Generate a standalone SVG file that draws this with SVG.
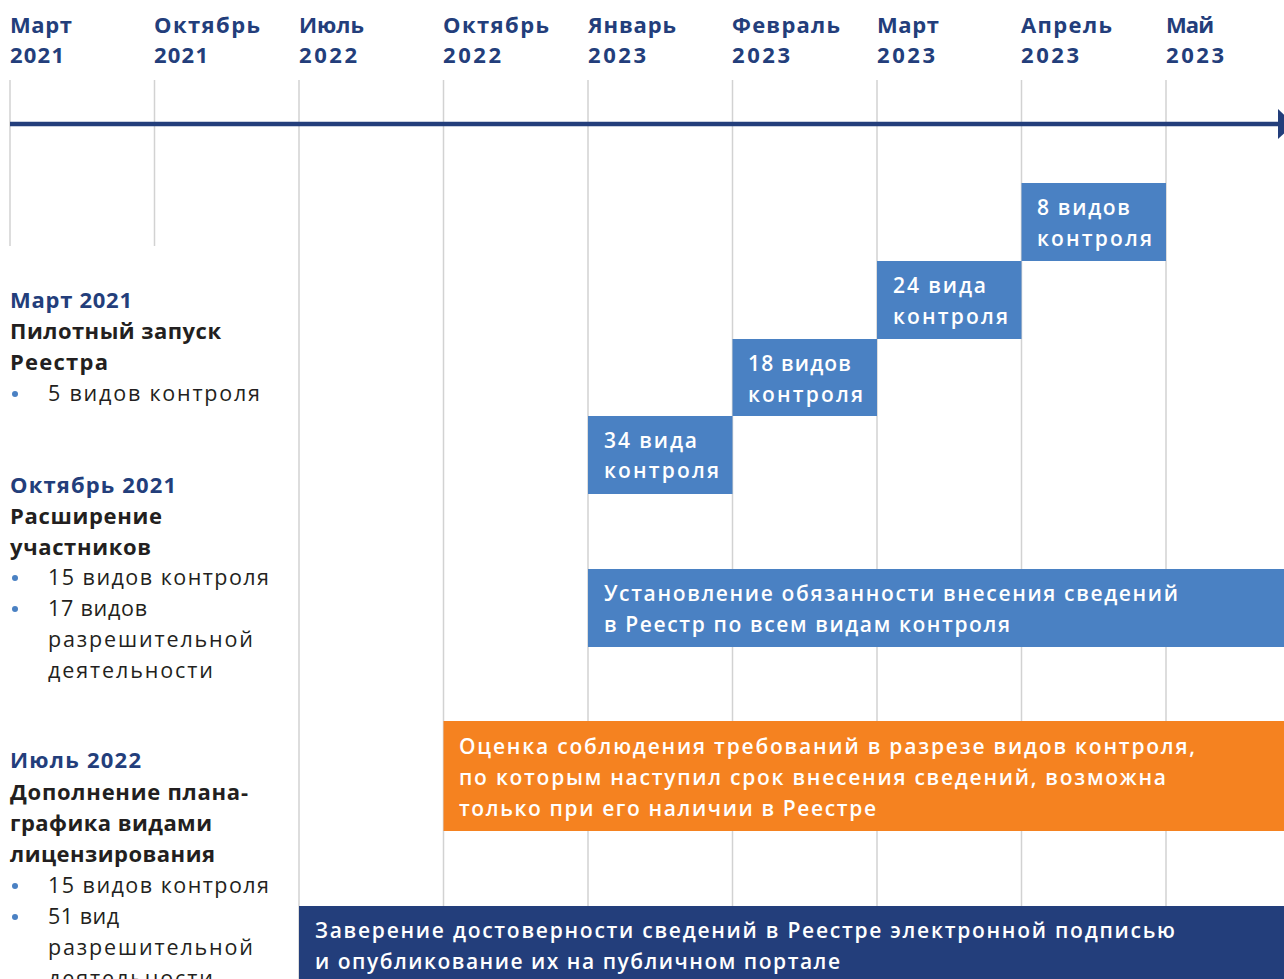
<svg xmlns="http://www.w3.org/2000/svg" width="1284" height="979" viewBox="0 0 1284 979">
<style>
.grid{stroke:#d2d2d2;stroke-width:1.5;fill:none}
.hd{font-family:"Open Sans","Liberation Sans",sans-serif;font-weight:700;font-size:22px;fill:#233e7b}
.lt{font-family:"Open Sans","Liberation Sans",sans-serif;font-weight:700;font-size:22px;fill:#231f20}
.lb{font-family:"Open Sans","Liberation Sans",sans-serif;font-weight:700;font-size:22px;fill:#233e7b}
.bt{font-family:"Open Sans","Liberation Sans",sans-serif;font-weight:400;font-size:21.5px;fill:#231f20}
.bx{font-family:"Open Sans","Liberation Sans",sans-serif;font-weight:600;font-size:21px;fill:#ffffff}
.lblue{fill:#4a81c3}
.orange{fill:#f58220}
.dblue{fill:#233e7b}
.dot{fill:#4a81c3}
</style>
<rect width="1284" height="979" fill="#ffffff"/>
<g id="grid">
<line class="grid" x1="10" y1="80" x2="10" y2="246"/>
<line class="grid" x1="154.5" y1="80" x2="154.5" y2="246"/>
<line class="grid" x1="299" y1="80" x2="299" y2="979"/>
<line class="grid" x1="443.5" y1="80" x2="443.5" y2="979"/>
<line class="grid" x1="588" y1="80" x2="588" y2="979"/>
<line class="grid" x1="732.5" y1="80" x2="732.5" y2="979"/>
<line class="grid" x1="877" y1="80" x2="877" y2="979"/>
<line class="grid" x1="1021.5" y1="80" x2="1021.5" y2="979"/>
<line class="grid" x1="1166" y1="80" x2="1166" y2="979"/>
</g>
<g id="connectors">
<line x1="10" y1="124" x2="1280" y2="124" stroke="#233e7b" stroke-width="4.5"/>
<polygon points="1278,109 1294,124 1278,139" fill="#233e7b"/>
</g>
<g id="headers">
<text class="hd" x="10" y="33" textLength="62">Март</text><text class="hd" x="10" y="63" textLength="54">2021</text>
<text class="hd" x="154" y="33" textLength="106">Октябрь</text><text class="hd" x="154" y="63" textLength="54">2021</text>
<text class="hd" x="299" y="33" textLength="65">Июль</text><text class="hd" x="299" y="63" textLength="58">2022</text>
<text class="hd" x="443" y="33" textLength="106">Октябрь</text><text class="hd" x="443" y="63" textLength="58">2022</text>
<text class="hd" x="588" y="33" textLength="88">Январь</text><text class="hd" x="588" y="63" textLength="58">2023</text>
<text class="hd" x="732" y="33" textLength="108">Февраль</text><text class="hd" x="732" y="63" textLength="58">2023</text>
<text class="hd" x="877" y="33" textLength="62">Март</text><text class="hd" x="877" y="63" textLength="58">2023</text>
<text class="hd" x="1021" y="33" textLength="91">Апрель</text><text class="hd" x="1021" y="63" textLength="58">2023</text>
<text class="hd" x="1166" y="33" textLength="48">Май</text><text class="hd" x="1166" y="63" textLength="58">2023</text>
</g>
<g id="box-8">
<rect class="lblue" x="1021.5" y="183" width="144.5" height="78"/>
<text class="bx" x="1037" y="215" textLength="93">8 видов</text>
<text class="bx" x="1037" y="246" textLength="115">контроля</text>
</g>
<g id="box-24">
<rect class="lblue" x="877" y="261" width="144.5" height="78"/>
<text class="bx" x="893" y="293" textLength="93">24 вида</text>
<text class="bx" x="893" y="324" textLength="115">контроля</text>
</g>
<g id="box-18">
<rect class="lblue" x="732.5" y="339" width="144.5" height="77"/>
<text class="bx" x="748" y="371" textLength="103">18 видов</text>
<text class="bx" x="748" y="402" textLength="115">контроля</text>
</g>
<g id="box-34">
<rect class="lblue" x="588" y="416" width="144.5" height="78"/>
<text class="bx" x="604" y="448" textLength="93">34 вида</text>
<text class="bx" x="604" y="478" textLength="115">контроля</text>
</g>
<g id="box-obligation">
<rect class="lblue" x="588" y="569" width="696" height="78"/>
<text class="bx" x="604" y="601" textLength="574">Установление обязанности внесения сведений</text>
<text class="bx" x="604" y="632" textLength="406">в Реестр по всем видам контроля</text>
</g>
<g id="box-assessment">
<rect class="orange" x="443.5" y="721" width="840.5" height="110"/>
<text class="bx" x="459" y="754" textLength="736">Оценка соблюдения требований в разрезе видов контроля,</text>
<text class="bx" x="459" y="785" textLength="707">по которым наступил срок внесения сведений, возможна</text>
<text class="bx" x="459" y="816" textLength="417">только при его наличии в Реестре</text>
</g>
<g id="box-signature">
<rect class="dblue" x="299" y="906" width="985" height="73"/>
<text class="bx" x="315" y="938" textLength="860">Заверение достоверности сведений в Реестре электронной подписью</text>
<text class="bx" x="315" y="969" textLength="525">и опубликование их на публичном портале</text>
</g>
<g id="note-mar2021">
<text class="lb" x="10" y="308" textLength="122">Март 2021</text>
<text class="lt" x="10" y="339" textLength="211">Пилотный запуск</text>
<text class="lt" x="10" y="370" textLength="98">Реестра</text>
<circle class="dot" cx="15" cy="394" r="3"/>
<text class="bt" x="48" y="401" textLength="212">5 видов контроля</text>
</g>
<g id="note-oct2021">
<text class="lb" x="10" y="493" textLength="166">Октябрь 2021</text>
<text class="lt" x="10" y="524" textLength="152">Расширение</text>
<text class="lt" x="10" y="555" textLength="141">участников</text>
<circle class="dot" cx="15" cy="578" r="3"/>
<text class="bt" x="48" y="585" textLength="221">15 видов контроля</text>
<circle class="dot" cx="15" cy="609" r="3"/>
<text class="bt" x="48" y="616" textLength="99">17 видов</text>
<text class="bt" x="48" y="647" textLength="205">разрешительной</text>
<text class="bt" x="48" y="678" textLength="165">деятельности</text>
</g>
<g id="note-jul2022">
<text class="lb" x="10" y="768" textLength="131">Июль 2022</text>
<text class="lt" x="10" y="800" textLength="238">Дополнение плана-</text>
<text class="lt" x="10" y="831" textLength="202">графика видами</text>
<text class="lt" x="10" y="862" textLength="205">лицензирования</text>
<circle class="dot" cx="15" cy="886" r="3"/>
<text class="bt" x="48" y="893" textLength="221">15 видов контроля</text>
<circle class="dot" cx="15" cy="917" r="3"/>
<text class="bt" x="48" y="924" textLength="71">51 вид</text>
<text class="bt" x="48" y="955" textLength="205">разрешительной</text>
<text class="bt" x="48" y="986" textLength="165">деятельности</text>
</g>
</svg>
